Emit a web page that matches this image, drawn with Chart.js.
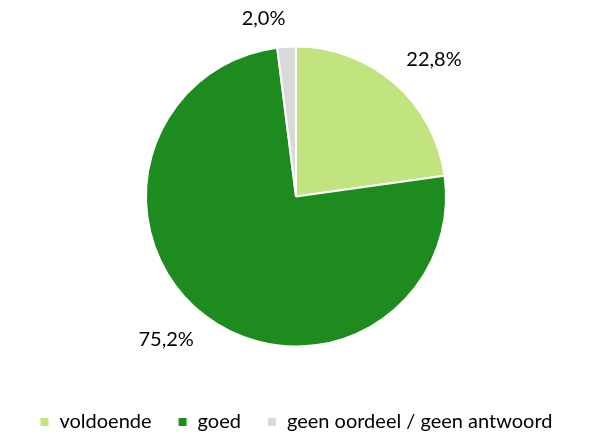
<!DOCTYPE html>
<html><head><meta charset="utf-8">
<script src="https://cdn.jsdelivr.net/npm/chart.js@4/dist/chart.umd.min.js"></script>
<style>html,body{margin:0;padding:0;background:#fff}#wrap{width:589px;height:438px}</style>
</head><body><div id="wrap"><canvas id="c" width="589" height="438"></canvas></div>
<script>
const categories = ["voldoende", "goed", "geen oordeel / geen antwoord"];
const values = [22.8, 75.2, 2.0];
const valueLabels = ["22,8%", "75,2%", "2,0%"];
const colors = ["#C2E47E", "#1E8B1E", "#D9D9D9"];
const FONT = "Lato, 'Open Sans', sans-serif";

const outLabels = {
  id: 'outLabels',
  afterDatasetsDraw(chart) {
    const ctx = chart.ctx;
    const meta = chart.getDatasetMeta(0);
    ctx.save();
    ctx.font = "20px " + FONT;
    ctx.fillStyle = "#000";
    ctx.textAlign = "center";
    ctx.textBaseline = "middle";
    meta.data.forEach((arc, i) => {
      const p = arc.getProps(['x','y','startAngle','endAngle','outerRadius'], true);
      const mid = (p.startAngle + p.endAngle) / 2;
      const dx = Math.cos(mid), dy = Math.sin(mid);
      const r = p.outerRadius + 18;
      const ax = p.x + dx * r, ay = p.y + dy * r;
      const w = ctx.measureText(valueLabels[i]).width, h = 20;
      const sx = Math.sign(dx);
      const sy = Math.sign(dy) * Math.min(1, Math.abs(dy) * 3);
      ctx.fillText(valueLabels[i], ax + sx * w / 2, ay + sy * h / 2);
    });
    ctx.restore();
  }
};

new Chart(document.getElementById('c'), {
  type: 'pie',
  data: {
    labels: categories,
    datasets: [{ data: values, backgroundColor: colors, borderColor: '#fff', borderWidth: 2 }]
  },
  options: {
    responsive: false,
    animation: false,
    radius: 150,
    layout: { padding: { top: 7, bottom: -4, left: 3, right: 0 } },
    plugins: {
      tooltip: { enabled: false },
      legend: {
        position: 'bottom',
        labels: { boxWidth: 10, boxHeight: 10, padding: 26, color: '#000', font: { size: 20, family: FONT } }
      }
    }
  },
  plugins: [outLabels]
});
</script></body></html>
